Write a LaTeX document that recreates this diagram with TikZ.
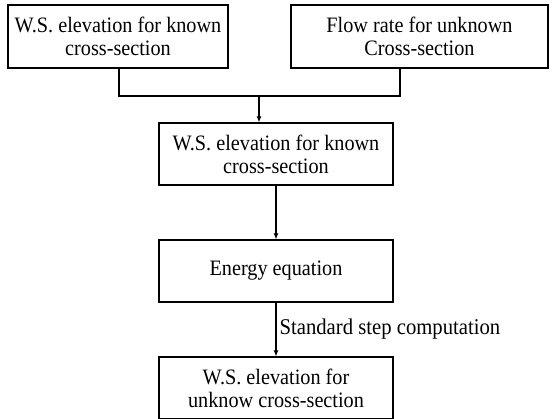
\documentclass[tikz,border=0pt]{standalone}
\usepackage{fontspec}
\setmainfont{Liberation Serif}[FakeStretch=0.92]
\usetikzlibrary{arrows.meta}
\begin{document}
\begin{tikzpicture}[x=1pt,y=-1pt,
  box/.style={draw, line width=1.2pt, inner sep=0pt, align=center, font=\fontsize{22}{23}\selectfont},
  conn/.style={line width=1.1pt},
  arr/.style={conn, -{Latex[length=6pt,width=5pt]}}]
\useasboundingbox (0,0) rectangle (556,419);
\node[box, minimum width=220pt, minimum height=63pt] (a) at (118,36.5) {W.S. elevation for known\\cross-section};
\node[box, minimum width=257pt, minimum height=63pt] (b) at (419.5,36.5) {Flow rate for unknown\\Cross-section};
\node[box, minimum width=234pt, minimum height=62pt] (c) at (276,154) {W.S. elevation for known\\cross-section};
\node[box, minimum width=234pt, minimum height=62pt] (d) at (276,271) {Energy equation};
\node[box, minimum width=234pt, minimum height=62pt] (e) at (276,388) {W.S. elevation for\\unknow cross-section};
\coordinate (ja) at (119,96);
\coordinate (jb) at (400,96);
\coordinate (jm) at (259,96);
\draw[conn] (a.south -| ja) -- (ja) -- (jb) -- (b.south -| jb);
\draw[arr] (jm) -- (c.north -| jm);
\draw[arr] (c) -- (d);
\draw[arr] (d) -- node[right, font=\fontsize{22.5}{25}\selectfont, inner sep=3pt] (lbl) {Standard step computation} (e);
\end{tikzpicture}
\end{document}
